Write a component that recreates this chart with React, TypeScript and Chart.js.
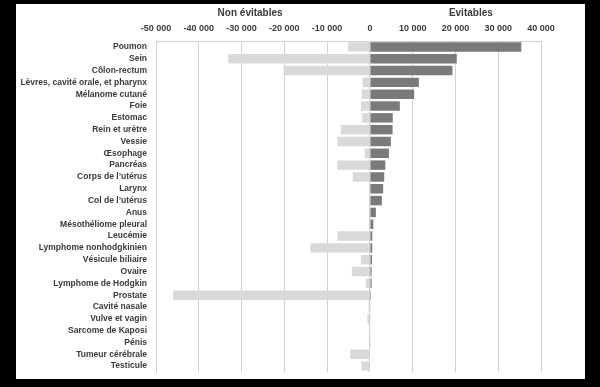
import React, { useEffect, useRef } from "react";
import { Chart, registerables } from "chart.js";

Chart.register(...registerables);

const categories = [
  "Poumon",
  "Sein",
  "Côlon-rectum",
  "Lèvres, cavité orale, et pharynx",
  "Mélanome cutané",
  "Foie",
  "Estomac",
  "Rein et urètre",
  "Vessie",
  "Œsophage",
  "Pancréas",
  "Corps de l’utérus",
  "Larynx",
  "Col de l’utérus",
  "Anus",
  "Mésothéliome pleural",
  "Leucémie",
  "Lymphome nonhodgkinien",
  "Vésicule biliaire",
  "Ovaire",
  "Lymphome de Hodgkin",
  "Prostate",
  "Cavité nasale",
  "Vulve et vagin",
  "Sarcome de Kaposi",
  "Pénis",
  "Tumeur cérébrale",
  "Testicule",
];

const nonEvitables = [
  -5100, -33100, -20200, -1700, -1900, -2100, -1800, -6800, -7600, -1200,
  -7600, -4000, 0, 0, 0, 0, -7600, -13900, -2100, -4200, -950, -46000, -300,
  -600, -100, 0, -4600, -2000,
];

const evitables = [
  35400, 20300, 19300, 11450, 10350, 7000, 5350, 5300, 4900, 4450, 3600, 3350,
  3100, 2800, 1400, 800, 550, 550, 500, 400, 400, 250, 150, 150, 100, 80, 0, 0,
];

const xMin = -50000;
const xMax = 40000;
const xStep = 10000;

const headerLeft = "Non évitables";
const headerRight = "Evitables";

const FONT = "'Liberation Sans', Arial, sans-serif";

const fmt = (v: number) => {
  const s = Math.abs(v)
    .toString()
    .replace(/\B(?=(\d{3})+(?!\d))/g, " ");
  return (v < 0 ? "-" : "") + s;
};

const headerPlugin = {
  id: "headers",
  afterDraw(chart: any) {
    const ctx = chart.ctx;
    const xs = chart.scales.x;
    ctx.save();
    ctx.font = `bold 10px ${FONT}`;
    ctx.fillStyle = "#3a3a3a";
    ctx.textAlign = "center";
    ctx.textBaseline = "middle";
    ctx.fillText(headerLeft, xs.getPixelForValue(-28000), 9);
    ctx.fillText(headerRight, xs.getPixelForValue(23600), 9);
    ctx.restore();
  },
};

export default function App() {
  const ref = useRef<HTMLCanvasElement | null>(null);

  useEffect(() => {
    if (!ref.current) return;
    const chart = new Chart(ref.current, {
      type: "bar",
      data: {
        labels: categories,
        datasets: [
          {
            label: headerLeft,
            data: nonEvitables,
            backgroundColor: "#d9d9d9",
            barPercentage: 0.8,
            categoryPercentage: 1,
          },
          {
            label: headerRight,
            data: evitables,
            backgroundColor: "#7a7a7a",
            barPercentage: 0.8,
            categoryPercentage: 1,
          },
        ],
      },
      options: {
        indexAxis: "y",
        animation: false,
        responsive: true,
        maintainAspectRatio: false,
        layout: { padding: { left: 0, right: 44, top: 0, bottom: 7 } },
        plugins: {
          legend: { display: false },
          tooltip: { enabled: false },
        },
        scales: {
          x: {
            position: "top",
            stacked: true,
            min: xMin,
            max: xMax,
            afterFit: (s: any) => {
              s.height = 37;
            },
            ticks: {
              stepSize: xStep,
              padding: 7,
              color: "#3a3a3a",
              font: { family: FONT, size: 9, weight: "bold" },
              callback: (v: any) => fmt(Number(v)),
              maxRotation: 0,
            },
            grid: { color: "#d0d0d0", drawTicks: false, lineWidth: 1 },
            border: { display: true, color: "#d0d0d0" },
          },
          y: {
            stacked: true,
            afterFit: (s: any) => {
              s.width = 140;
              s.paddingTop = 0;
              s.paddingBottom = 0;
            },
            ticks: {
              padding: 9,
              color: "#3a3a3a",
              font: { family: FONT, size: 8.5, weight: "bold" },
              autoSkip: false,
            },
            grid: { display: false, drawTicks: false },
            border: { display: true, color: "#d0d0d0" },
          },
        },
      },
      plugins: [headerPlugin],
    });
    return () => chart.destroy();
  }, []);

  return (
    <div
      style={{
        position: "fixed",
        left: 0,
        top: 0,
        width: 600,
        height: 387,
        background: "#000",
      }}
    >
      <div
        style={{
          position: "absolute",
          left: 16,
          top: 4,
          width: 569,
          height: 375,
          background: "#fff",
        }}
      >
        <canvas ref={ref} />
      </div>
    </div>
  );
}
